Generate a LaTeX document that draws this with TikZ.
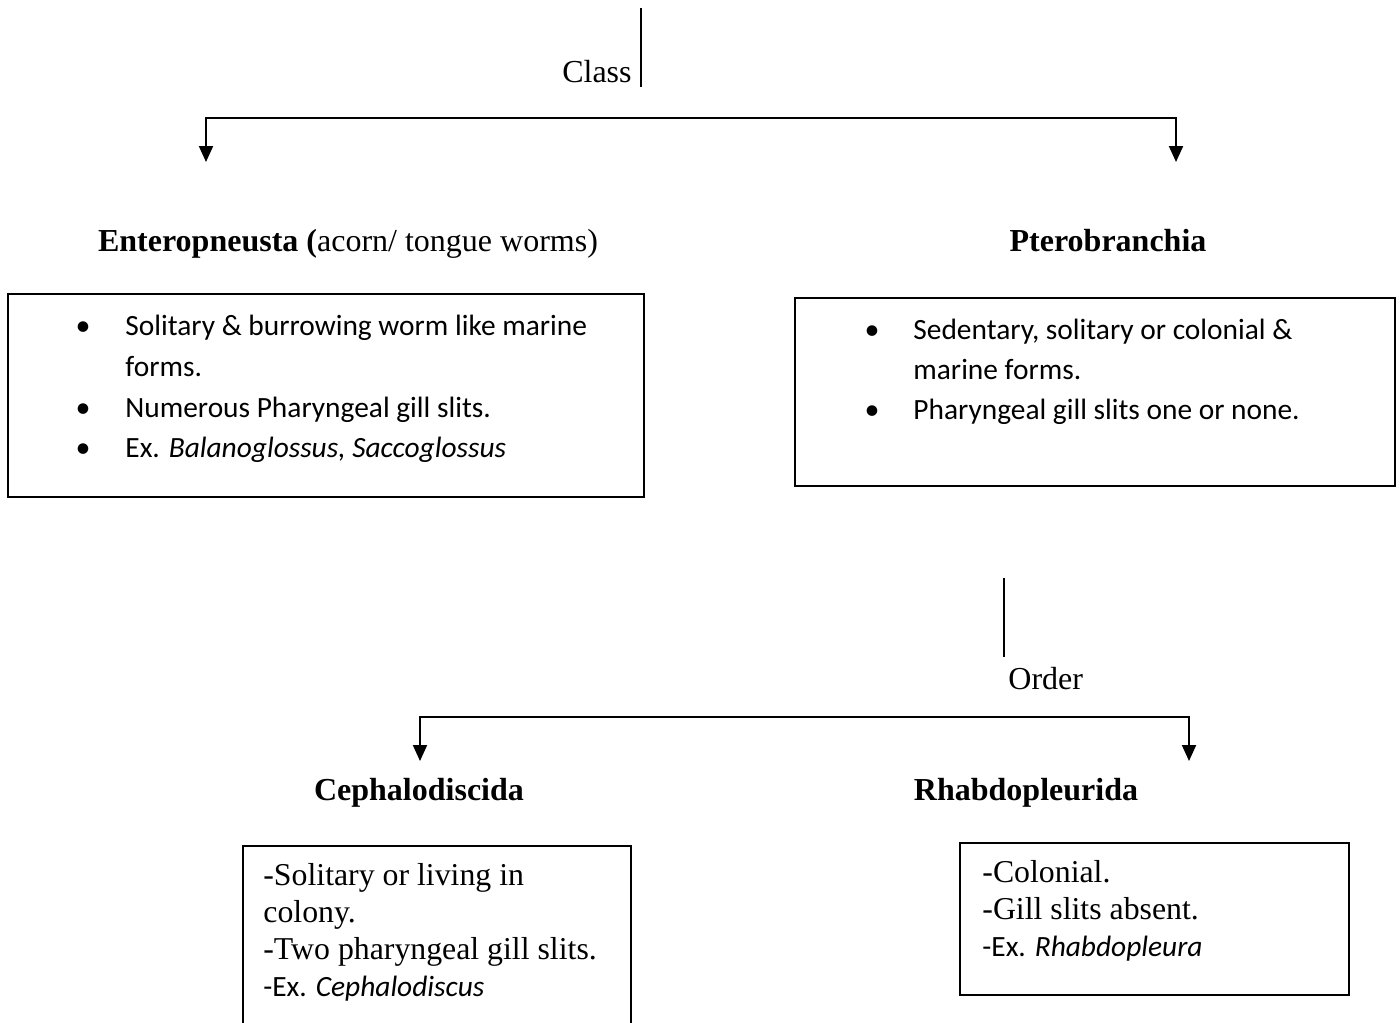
\documentclass[tikz,border=0pt]{standalone}
\usepackage{fontspec}
\setmainfont{Liberation Serif}
\newfontfamily\calibri{Carlito}
\usetikzlibrary{arrows.meta,positioning}
\tikzset{
  taxon/.style={font=\fontsize{16}{19}\selectfont\bfseries, inner sep=0pt, anchor=base},
  rank/.style={font=\fontsize{16}{19}\selectfont, inner sep=0pt},
  infobox/.style={draw, line width=0.75pt, inner sep=0pt, outer sep=0pt, anchor=north west},
  bul/.style={font=\calibri\fontsize{14.7}{17}\selectfont, inner sep=0pt, anchor=base west},
  dot/.style={font=\calibri\fontsize{15}{17}\selectfont, inner sep=0pt, anchor=base},
  plain/.style={font=\fontsize{15.9}{18}\selectfont, inner sep=0pt, anchor=base west},
  branch/.style={line width=1pt, {Triangle[length=8pt,width=7pt]}-{Triangle[length=8pt,width=7pt]}},
  stem/.style={line width=0.7pt}
}

\begin{document}
\begin{tikzpicture}[x=0.5pt,y=-0.5pt]
    \clip (0,0) rectangle (1400,1022);
    % class level
    \coordinate (classtop) at (641,8);
    \coordinate (classfoot) at (641,87);
    \coordinate (classbar) at (641,118);
    \coordinate (enterotip) at (206,162);
    \coordinate (pterotip) at (1176,162);
    \draw[stem] (classtop) -- (classfoot);
    \node[rank, anchor=base east] (class) at (632,83) {Class};
    \draw[branch] (enterotip) -- (enterotip |- classbar) -- (pterotip |- classbar) -- (pterotip);
    \node[taxon] (entero) at (348,251) {Enteropneusta (\textmd{acorn/ tongue worms)}};
    \node[taxon] (ptero) at (1108,251) {Pterobranchia};
    % class boxes
    \node[infobox, minimum width=318pt, minimum height=101.5pt] (enterobox) at (8,294) {};
    \node[bul] (e1) at (125,335) {Solitary \& burrowing worm like marine};
    \node[bul] (e2) at (125,376) {forms.};
    \node[bul] (e3) at (125,417) {Numerous Pharyngeal gill slits.};
    \node[bul] (e4) at (125,457) {Ex. \textit{Balanoglossus, Saccoglossus}};
    \foreach \n in {e1,e3,e4}
      \node[dot] (\n dot) at (83,0 |- \n.base) {•};
    \node[infobox, minimum width=300pt, minimum height=94pt] (pterobox) at (795,298) {};
    \node[bul] (p1) at (913,339) {Sedentary, solitary or colonial \&};
    \node[bul] (p2) at (913,379) {marine forms.};
    \node[bul] (p3) at (913,419) {Pharyngeal gill slits one or none.};
    \foreach \n in {p1,p3}
      \node[dot] (\n dot) at (872,0 |- \n.base) {•};
    % order level
    \coordinate (ordertop) at (1004,578);
    \coordinate (orderfoot) at (1004,657);
    \coordinate (orderbar) at (1004,717);
    \coordinate (cephtip) at (420,761);
    \coordinate (rhabdotip) at (1189,761);
    \draw[stem] (ordertop) -- (orderfoot);
    \node[rank, anchor=base west] (order) at (1008,689) {Order};
    \draw[branch] (cephtip) -- (cephtip |- orderbar) -- (rhabdotip |- orderbar) -- (rhabdotip);
    \node[taxon] (ceph) at (419,800) {Cephalodiscida};
    \node[taxon] (rhabdo) at (1026,800) {Rhabdopleurida};
    % order boxes
    \node[infobox, minimum width=194pt, minimum height=100pt] (cephbox) at (243,846) {};
    \node[plain] (c1) at (263,885) {-Solitary or living in};
    \node[plain] (c2) at (263,922) {colony.};
    \node[plain] (c3) at (263,959) {-Two pharyngeal gill slits.};
    \node[bul] (c4) at (263,996) {-Ex. \textit{Cephalodiscus}};
    \node[infobox, minimum width=194.5pt, minimum height=76pt] (rhabdobox) at (960,843) {};
    \node[plain] (r1) at (982,882) {-Colonial.};
    \node[plain] (r2) at (982,919) {-Gill slits absent.};
    \node[bul] (r3) at (982,956) {-Ex. \textit{Rhabdopleura}};
\end{tikzpicture}
\end{document}
